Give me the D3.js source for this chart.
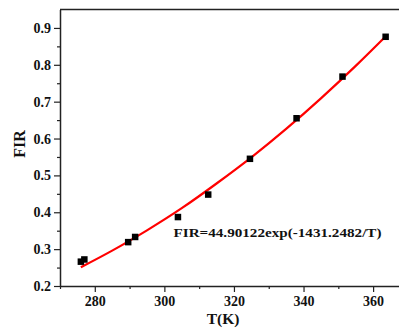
<!DOCTYPE html>
<html>
<head>
<meta charset="utf-8">
<script src="https://cdn.jsdelivr.net/npm/d3@7"></script>
<style>
  html, body { margin: 0; padding: 0; background: #fff; }
  svg { display: block; }
  svg text { font-family: 'Liberation Serif', 'Times New Roman', serif !important; font-weight: bold !important; fill: #111; }
</style>
</head>
<body>
<svg id="chart" width="399" height="328"></svg>
<script>
// Measured points
const temps = [276.0, 277.0, 289.6, 291.6, 303.9, 312.6, 324.6, 338.0, 351.2, 363.6];
const firValues = [0.266, 0.272, 0.319, 0.333, 0.387, 0.448, 0.545, 0.655, 0.768, 0.876];
// Fitted curve
const fitTemps = [276, 285, 295, 305, 315, 325, 335, 345, 355, 363.5];
const fitValues = [0.251, 0.296, 0.351, 0.411, 0.478, 0.549, 0.626, 0.709, 0.797, 0.876];
const xTickValues = [280, 300, 320, 340, 360];
const xMinorTicks = [270, 290, 310, 330, 350, 370];
const yTickValues = [0.2, 0.3, 0.4, 0.5, 0.6, 0.7, 0.8, 0.9];
const yMinorTicks = [0.25, 0.35, 0.45, 0.55, 0.65, 0.75, 0.85];
const xLabel = "T(K)";
const yLabel = "FIR";
const equation = "FIR=44.90122exp(-1431.2482/T)";

(function () {
const svg = d3.select("#chart");
const mLeft = 60, mTop = 9.5, mBottom = 286;
const x = d3.scaleLinear().domain([270, 370]).range([mLeft, 60 + 100 * 3.479]);
const y = d3.scaleLinear().domain([0.2, 0.95]).range([mBottom, mTop]);

// Top border line
svg.append("line").attr("x1", mLeft).attr("x2", 400).attr("y1", mTop).attr("y2", mTop)
  .attr("stroke", "#222").attr("stroke-width", 1.5);

function styleAxis(g) {
  g.attr("font-family", "Liberation Serif").attr("font-size", 14).attr("font-weight", "bold");
  g.selectAll(".domain").attr("stroke", "#222").attr("stroke-width", 1.5);
  g.selectAll(".tick line").attr("stroke", "#222").attr("stroke-width", 1.2);
  g.selectAll("text").attr("font-family", "Liberation Serif").attr("font-size", 14)
    .attr("font-weight", "bold").attr("fill", "#111");
}

// X axis
const gx = svg.append("g").attr("transform", `translate(0,${mBottom})`);
gx.call(d3.axisBottom(x).tickValues(xTickValues).tickSize(6).tickSizeOuter(0).tickPadding(4).tickFormat(d3.format("d")));
gx.append("g").call(d3.axisBottom(x).tickValues(xMinorTicks).tickSize(3).tickSizeOuter(0).tickFormat(""))
  .select(".domain").remove();
styleAxis(gx);

// Y axis
const gy = svg.append("g").attr("transform", `translate(${mLeft},0)`);
gy.call(d3.axisLeft(y).tickValues(yTickValues).tickSize(6).tickSizeOuter(0).tickPadding(3).tickFormat(d3.format(".1f")));
gy.append("g").call(d3.axisLeft(y).tickValues(yMinorTicks).tickSize(3).tickSizeOuter(0).tickFormat(""))
  .select(".domain").remove();
styleAxis(gy);

// Fit curve
const line = d3.line().x(d => x(d[0])).y(d => y(d[1])).curve(d3.curveNatural);
svg.append("path")
  .datum(fitTemps.map((t, i) => [t, fitValues[i]]))
  .attr("d", line)
  .attr("fill", "none").attr("stroke", "#ff0000").attr("stroke-width", 2.2);

// Points
const sz = 6.5;
svg.append("g").selectAll("rect").data(temps.map((t, i) => [t, firValues[i]])).join("rect")
  .attr("x", d => x(d[0]) - sz / 2).attr("y", d => y(d[1]) - sz / 2)
  .attr("width", sz).attr("height", sz).attr("fill", "#000");

// Equation
svg.append("text").attr("x", 173.5).attr("y", 237).attr("font-size", 13.5)
  .attr("textLength", 208).attr("lengthAdjust", "spacingAndGlyphs").text(equation);

// Axis labels
svg.append("text").attr("x", 223).attr("y", 323.5).attr("text-anchor", "middle").attr("font-size", 15.5).text(xLabel);
svg.append("text").attr("transform", "translate(25,144) rotate(-90)").attr("text-anchor", "middle").attr("font-size", 16).text(yLabel);
})();
</script>
</body>
</html>
